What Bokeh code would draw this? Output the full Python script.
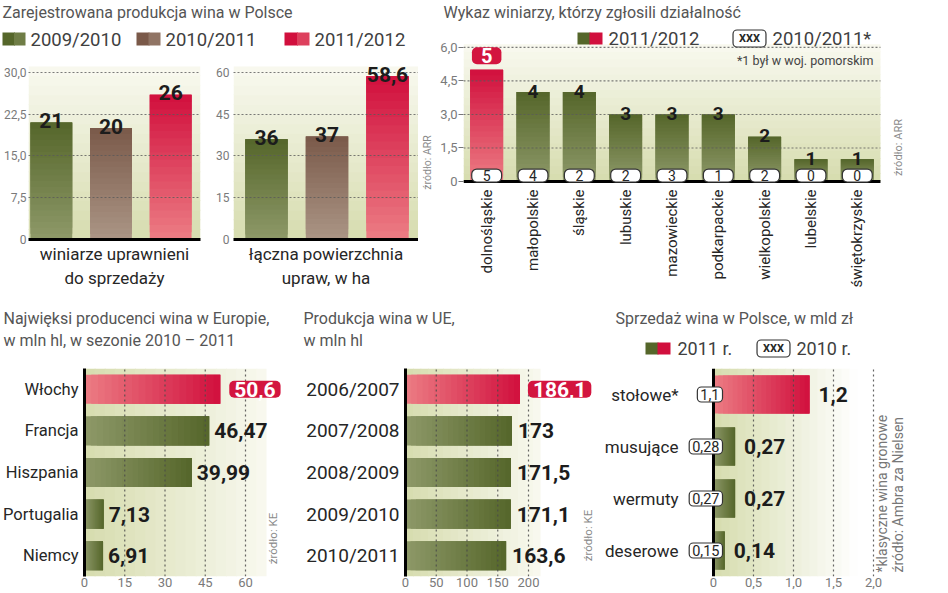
import math
from bokeh.plotting import figure
from bokeh.layouts import row, column
from bokeh.models import (Label, BoxAnnotation, Range1d, Span, FixedTicker,
                          CustomJSTickFormatter)
from bokeh.embed import file_html
from bokeh.resources import INLINE

# ---------------- data ----------------
prod_series = ["2009/2010", "2010/2011", "2011/2012"]
winemakers = [21, 20, 26]
area_ha = [36, 37, 58.6]
ticks_win = [0, 7.5, 15, 22.5, 30]
ticks_area = [0, 15, 30, 45, 60]

regions = ["dolnośląskie", "małopolskie", "śląskie", "lubuskie", "mazowieckie",
           "podkarpackie", "wielkopolskie", "lubelskie", "świętokrzyskie"]
reg_2011_12 = [5, 4, 4, 3, 3, 3, 2, 1, 1]
reg_2010_11 = [5, 4, 2, 2, 3, 1, 2, 0, 0]
ticks_reg = [0, 1.5, 3, 4.5, 6]

producers = ["Włochy", "Francja", "Hiszpania", "Portugalia", "Niemcy"]
producers_mhl = [50.6, 46.47, 39.99, 7.13, 6.91]
ticks_prod = [0, 15, 30, 45, 60]

seasons = ["2006/2007", "2007/2008", "2008/2009", "2009/2010", "2010/2011"]
eu_mhl = [186.1, 173, 171.5, 171.1, 163.6]
ticks_eu = [0, 50, 100, 150, 200]

wine_types = ["stołowe*", "musujące", "wermuty", "deserowe"]
sales_2011 = [1.2, 0.27, 0.27, 0.14]
sales_2010 = [1.1, 0.28, 0.27, 0.15]
ticks_sales = [0, 0.5, 1, 1.5, 2]

# ---------------- style ----------------
FONT = "Roboto"
NUMFONT = "Roboto"
GREEN = ("#55662a", "#8e9969")    # (dark end, light end)
BROWN = ("#7a5949", "#ab9686")
RED = ("#d10f3d", "#ec7d84")
BOXRED = "#d3153f"
TITLE_C = "#555555"
LEG_C = "#404040"
CAT_C = "#262626"
TICK_C = "#7a7a7a"
NOTE_C = "#8a8a8a"
VAL_C = "#1c1c1c"
GRID_C = "#5a5a5a"
BG_DARK = "#d6dcae"
BG_LIGHT = "#f9f9f0"
series_colors = [GREEN, BROWN, RED]
NSEG = 20


def pl(v):
    return f"{v:g}".replace(".", ",")


def comma_fmt():
    return CustomJSTickFormatter(
        code="return tick == 0 ? '0' : tick.toFixed(1).replace('.', ',');")


def plain_fmt():
    return CustomJSTickFormatter(code="return String(tick);")


def mix(c1, c2, t):
    a = [int(c1[i:i + 2], 16) for i in (1, 3, 5)]
    b = [int(c2[i:i + 2], 16) for i in (1, 3, 5)]
    return "#%02x%02x%02x" % tuple(round(x + (y - x) * t) for x, y in zip(a, b))


def mid(c):
    return mix(c[0], c[1], 0.45)


def mkfig(w, h, L, R, T, B, xr, yr, xaxis=None, yaxis=None):
    p = figure(width=w, height=h, x_range=xr, y_range=yr, title=None,
               x_axis_location=xaxis, y_axis_location=yaxis,
               output_backend="svg", toolbar_location=None,
               min_border_left=L, min_border_right=R,
               min_border_top=T, min_border_bottom=B)
    p.outline_line_color = None
    p.background_fill_color = "white"
    p.border_fill_color = "white"
    p.xgrid.visible = False
    p.ygrid.visible = False
    return p


def strip(w, h):
    return mkfig(w, h, 0, 0, 0, 0, Range1d(0, w), Range1d(0, h))


def bands(p, dim, lo, hi, c_lo, c_hi, cross=(None, None), n=18):
    step = (hi - lo) / n
    for k in range(n):
        a = lo + k * step
        b = a + step * 1.1 if k < n - 1 else hi
        col = mix(c_lo, c_hi, (k + 0.5) / n)
        kw = dict(fill_color=col, fill_alpha=1, line_color=None, level="image")
        if dim == "y":
            box = BoxAnnotation(bottom=a, top=b, left=cross[0], right=cross[1], **kw)
        else:
            box = BoxAnnotation(left=a, right=b, bottom=cross[0], top=cross[1], **kw)
        p.add_layout(box)


def grad_bars(p, pos, vals, size, palettes, horizontal=False):
    """Bars drawn from the data values, shaded from the light end (at 0) to the dark end.
    Each shade overlaps the next ones generously so that no seams show."""
    for k in range(NSEG):
        f0 = k / NSEG
        f1 = min(1.0, (k + 3.0) / NSEG)
        cols = [mix(pal[1], pal[0], (k + 0.5) / NSEG) for pal in palettes]
        lo = [v * f0 for v in vals]
        hi = [v * f1 for v in vals]
        if horizontal:
            p.hbar(y=pos, left=lo, right=hi, height=size, color=cols, line_color=None)
        else:
            p.vbar(x=pos, bottom=lo, top=hi, width=size, color=cols, line_color=None)


def txt(p, FL, FB, rx, ry, text, size, color, font=FONT, align="left",
        baseline="middle", angle=0, style="normal", **kw):
    p.add_layout(Label(x=rx - FL, y=FB - ry, x_units="screen", y_units="screen",
                       text=text, text_font=font, text_font_size=f"{size}px",
                       text_color=color, text_align=align, text_baseline=baseline,
                       angle=angle, text_font_style=style, **kw))


def swatch(p, FL, FB, x0, x1, y0, y1, color):
    p.add_layout(BoxAnnotation(left=x0 - FL, right=x1 - FL, top=FB - y0, bottom=FB - y1,
                               left_units="screen", right_units="screen",
                               top_units="screen", bottom_units="screen",
                               fill_color=color, fill_alpha=1, line_color=None))


def xxx_box(p, FL, FB, rx, ry):
    txt(p, FL, FB, rx, ry, "XXX", 11, CAT_C, font=NUMFONT, align="center", style="bold",
        background_fill_color="white", border_line_color="#333333", border_line_width=1.2,
        padding=(6, 2), border_radius=4)


def style_axis(ax, size, color):
    ax.axis_line_color = None
    ax.major_tick_line_color = None
    ax.minor_tick_line_color = None
    ax.major_tick_out = 0
    ax.major_tick_in = 0
    ax.minor_tick_out = 0
    ax.minor_tick_in = 0
    ax.major_label_text_font = FONT
    ax.major_label_text_font_size = size
    ax.major_label_text_color = color


def grid_style(g, ticks):
    g.visible = True
    g.ticker = FixedTicker(ticks=ticks)
    g.grid_line_color = GRID_C
    g.grid_line_dash = "2 2"
    g.grid_line_width = 1.1
    g.grid_line_alpha = 0.8
    g.level = "guide"


# ================= TOP LEFT: header =================
hdr = strip(436, 52)
HF, HB = 0, 52
txt(hdr, HF, HB, 2, 12, "Zarejestrowana produkcja wina w Polsce", 16, TITLE_C)
leg_x = [(2, 25, 30), (136, 160, 165), (284, 309, 314)]
for (a, b, t), name, col in zip(leg_x, prod_series, series_colors):
    swatch(hdr, HF, HB, a, (a + b) / 2 + 1, 32, 45, col[0])
    swatch(hdr, HF, HB, (a + b) / 2, b, 32, 45, mid(col))
    txt(hdr, HF, HB, t, 39, name, 18.5, LEG_C)


def col_chart(w, L, R, vals, xr, ymax_bg, ymax, ticks, fmt, std, label):
    p = mkfig(w, 238, L, R, 6, 50, xr, Range1d(0, ymax), xaxis="below", yaxis="left")
    bands(p, "y", 0, ymax_bg, BG_DARK, BG_LIGHT)
    grad_bars(p, list(range(len(vals))), vals, 0.7, series_colors)
    p.yaxis.ticker = FixedTicker(ticks=ticks)
    p.yaxis.formatter = fmt
    style_axis(p.yaxis[0], "12px", TICK_C)
    p.yaxis.major_label_standoff = std
    grid_style(p.ygrid[0], ticks[1:])
    p.xaxis.ticker = FixedTicker(ticks=[])
    style_axis(p.xaxis[0], "12px", TICK_C)
    p.xaxis.axis_line_color = "black"
    p.xaxis.axis_line_width = 3
    p.xaxis.axis_label = label
    p.xaxis.axis_label_text_font = FONT
    p.xaxis.axis_label_text_font_size = "17px"
    p.xaxis.axis_label_text_font_style = "normal"
    p.xaxis.axis_label_text_color = CAT_C
    p.xaxis.axis_label_standoff = 4
    for i, v in enumerate(vals):
        p.add_layout(Label(x=i, y=v, y_offset=2, text=pl(v), text_align="center",
                           text_baseline="alphabetic", text_font=NUMFONT, text_font_style="bold",
                           text_font_size="21px", text_color=VAL_C))
    return p


# ================= TOP LEFT: charts =================
p1a = col_chart(205, 27, 5, winemakers, Range1d(-0.383, 2.5), 30 * 174 / 168, 182 / 5.6,
                ticks_win, comma_fmt(), 2, "winiarze uprawnieni\ndo sprzedaży")
p1b = col_chart(213, 28, 0, area_ha, Range1d(-0.545, 2.512), 60 * 174 / 168, 182 / 2.8,
                ticks_area, plain_fmt(), 4, "łączna powierzchnia\nupraw, w ha")
n1 = strip(18, 238)
txt(n1, 418, 290, 427, 213, "źródło: ARR", 10.5, NOTE_C, align="center", angle=math.pi / 2)

# ================= TOP RIGHT: regions =================
t2 = strip(489, 22)
txt(t2, 436, 22, 443, 12, "Wykaz winiarzy, którzy zgłosili działalność", 16, TITLE_C)

PPU2 = 135 / 6
F2L, F2B = 463, 188
xr = [i + 0.5 for i in range(len(regions))]
nreg = len(regions)
p2 = mkfig(489, 268, 27, 2, 0, 102, Range1d(0, 460 / 46.33),
           Range1d(-(F2B - 182) / PPU2, (182 - 22) / PPU2), xaxis="below", yaxis="left")
bands(p2, "y", 0, 138 / PPU2, BG_DARK, BG_LIGHT, cross=(0, nreg))
top_i = reg_2011_12.index(max(reg_2011_12))
grad_bars(p2, xr, reg_2011_12, 0.71, [RED if i == top_i else GREEN for i in range(nreg)])
gt = ticks_reg[1:]
p2.segment(x0=[0] * len(gt), x1=[nreg] * len(gt), y0=gt, y1=gt, line_color=GRID_C,
           line_dash="2 2", line_width=1.1, line_alpha=0.8)
p2.yaxis.ticker = FixedTicker(ticks=ticks_reg)
p2.yaxis.formatter = comma_fmt()
style_axis(p2.yaxis[0], "13px", TICK_C)
p2.yaxis.major_tick_line_color = "#777777"
p2.yaxis.major_tick_out = 5
p2.yaxis.major_label_standoff = 1
p2.xaxis.ticker = FixedTicker(ticks=xr)
p2.xaxis.formatter = CustomJSTickFormatter(args=dict(labels=regions),
                                           code="return labels[Math.floor(tick)] || '';")
style_axis(p2.xaxis[0], "15px", CAT_C)
p2.xaxis.major_label_orientation = math.pi / 2
p2.xaxis.major_label_standoff = 2
p2.add_layout(BoxAnnotation(left=0, right=nreg, bottom=-1.5 / PPU2, top=1.5 / PPU2,
                            fill_color="black", fill_alpha=1, line_color=None))
for i, (v, prev) in enumerate(zip(reg_2011_12, reg_2010_11)):
    if i == top_i:
        p2.add_layout(Label(x=xr[i], y=v, y_offset=14, text=pl(v), text_align="center",
                            text_baseline="middle", text_font=NUMFONT, text_font_style="bold",
                            text_font_size="20px", text_color="white",
                            background_fill_color=BOXRED, padding=(9, 1), border_radius=5))
    else:
        p2.add_layout(Label(x=xr[i], y=v, y_offset=1, text=pl(v), text_align="center",
                            text_baseline="alphabetic", text_font=NUMFONT, text_font_style="bold",
                            text_font_size="19px", text_color=VAL_C))
    p2.add_layout(Label(x=xr[i], y=0, y_offset=6, text=pl(prev), text_align="center",
                        text_baseline="middle", text_font=FONT, text_font_size="14px",
                        text_color=CAT_C, background_fill_color="white",
                        border_line_color="#333333", border_line_width=1.2,
                        padding=(11, 1), border_radius=5))
swatch(p2, F2L, F2B, 577, 590, 33, 45, GREEN[0])
swatch(p2, F2L, F2B, 589, 602, 33, 45, RED[0])
txt(p2, F2L, F2B, 608, 39, "2011/2012", 18.5, LEG_C)
xxx_box(p2, F2L, F2B, 749, 39)
txt(p2, F2L, F2B, 772, 39, "2010/2011*", 18.5, LEG_C)
txt(p2, F2L, F2B, 873, 61, "*1 był w woj. pomorskim", 12.5, "#444444", align="right")
txt(p2, F2L, F2B, 898, 148, "źródło: ARR", 11, NOTE_C, align="center", angle=math.pi / 2)


# ================= BOTTOM: horizontal bar charts =================
def hchart(w, L, cats, vals, xstart, xend, bg_end, bg_light, ticks, fmt, bar_h, std,
           cat_size, axis_line=True):
    n = len(cats)
    p = mkfig(w, 227, L, 2, 4, 15, Range1d(xstart, xend), Range1d(-0.5, n - 0.5),
              xaxis="below", yaxis="left")
    bands(p, "x", 0, bg_end, BG_DARK, bg_light, cross=(-0.5, n - 0.5))
    ys = [n - 1 - i for i in range(n)]
    grad_bars(p, ys, vals, bar_h, [RED if i == 0 else GREEN for i in range(n)], horizontal=True)
    gt = ticks[1:]
    p.segment(x0=gt, x1=gt, y0=[-0.5] * len(gt), y1=[n - 0.5] * len(gt), line_color="#4a4a4a",
              line_dash="2 3", line_width=1.2, line_alpha=0.85)
    p.yaxis.ticker = FixedTicker(ticks=list(range(n)))
    p.yaxis.formatter = CustomJSTickFormatter(args=dict(labels=list(reversed(cats))),
                                              code="return labels[Math.round(tick)] || '';")
    style_axis(p.yaxis[0], cat_size, CAT_C)
    if axis_line:
        p.yaxis.axis_line_color = "black"
        p.yaxis.axis_line_width = 3
    else:
        p.add_layout(Span(location=0, dimension="height", line_color="black", line_width=3))
    p.yaxis.major_label_standoff = std
    p.xaxis.ticker = FixedTicker(ticks=ticks)
    p.xaxis.formatter = fmt
    style_axis(p.xaxis[0], "13px", TICK_C)
    p.xaxis.major_label_standoff = 1
    return p, ys


def value_labels(p, vals, ys, boxed_index, off_plain, off_box):
    for i, v in enumerate(vals):
        if i == boxed_index:
            p.add_layout(Label(x=v, y=ys[i], x_offset=off_box, text=pl(v), text_align="left",
                               text_baseline="middle", text_font=NUMFONT, text_font_style="bold",
                               text_font_size="21px", text_color="white",
                               background_fill_color=BOXRED, padding=(5, 1), border_radius=5))
        else:
            p.add_layout(Label(x=v, y=ys[i], x_offset=off_plain, text=pl(v), text_align="left",
                               text_baseline="middle", text_font=NUMFONT, text_font_style="bold",
                               text_font_size="21px", text_color=VAL_C))


TH = 74   # title strip height (ref y 290 - 364)

# ---- producers ----
t3 = strip(290, TH)
txt(t3, 0, 364, 3, 318, "Najwięksi producenci wina w Europie,", 16, TITLE_C)
txt(t3, 0, 364, 3, 340, "w mln hl, w sezonie 2010 – 2011", 16, TITLE_C)
P3 = 161 / 60
L3 = 84
p3, ys3 = hchart(290, L3, producers, producers_mhl, 0, (288 - L3) / P3, (266 - L3) / P3,
                 BG_LIGHT, ticks_prod, plain_fmt(), 0.7, 6, "16.5px")
value_labels(p3, producers_mhl, ys3, 0, 5, 9)
txt(p3, L3, 576, 272, 538, "źródło: KE", 11.5, NOTE_C, align="center", angle=math.pi / 2)

# ---- EU production ----
t4 = strip(310, TH)
txt(t4, 290, 364, 303, 318, "Produkcja wina w UE,", 16, TITLE_C)
txt(t4, 290, 364, 303, 340, "w mln hl", 16, TITLE_C)
P4 = 123 / 200
p4, ys4 = hchart(310, 115, seasons, eu_mhl, 0, 193 / P4, 135 / P4, BG_LIGHT,
                 ticks_eu, plain_fmt(), 0.7, 6, "19px")
value_labels(p4, eu_mhl, ys4, 0, 6, 8)
txt(p4, 405, 576, 587, 535, "źródło: KE", 11.5, NOTE_C, align="center", angle=math.pi / 2)

# ---- sales in Poland ----
t5 = strip(325, TH)
txt(t5, 600, 364, 615, 318, "Sprzedaż wina w Polsce, w mld zł", 16, TITLE_C)
swatch(t5, 600, 364, 645, 658, 342, 354, GREEN[0])
swatch(t5, 600, 364, 657, 670, 342, 354, RED[0])
txt(t5, 600, 364, 677, 348, "2011 r.", 18, LEG_C)
xxx_box(t5, 600, 364, 773, 348)
txt(t5, 600, 364, 796, 348, "2010 r.", 18, LEG_C)
P5 = 80
L5 = 80
p5, ys5 = hchart(325, L5, wine_types, sales_2011, -(713 - 600 - L5) / P5, (923 - 713) / P5,
                 1.8, "#ffffff", ticks_sales, comma_fmt(), 0.73, 2, "17px", axis_line=False)
value_labels(p5, sales_2011, ys5, -1, 9, 0)
for i, prev in enumerate(sales_2010):
    p5.add_layout(Label(x=0, y=ys5[i], x_offset=9, text=pl(prev), text_align="right",
                        text_baseline="middle", text_font=FONT, text_font_size="14.5px",
                        text_color=CAT_C, background_fill_color="white",
                        border_line_color="#333333", border_line_width=1.2,
                        padding=(3, 2), border_radius=4))
F5L = 600 + L5
txt(p5, F5L, 576, 881, 572, "*klasyczne wina gronowe", 14, "#777777", angle=math.pi / 2)
txt(p5, F5L, 576, 897, 572, "źródło: Ambra za Nielsen", 14, "#777777", angle=math.pi / 2)

# ================= layout =================
top = row(column(hdr, row(p1a, p1b, n1)), column(row(t2), row(p2)))
bottom = row(column(row(t3), row(p3)), column(row(t4), row(p4)), column(row(t5), row(p5)))
layout = column(top, bottom)

open("out.html", "w").write(file_html(layout, INLINE))
